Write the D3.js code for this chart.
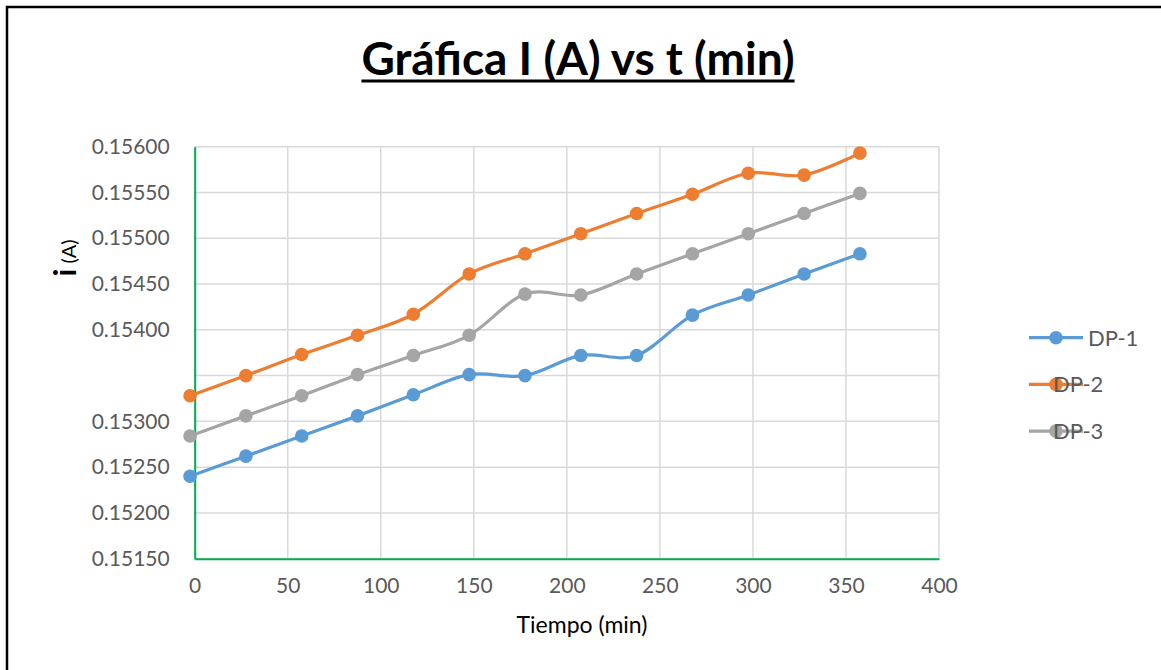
<!DOCTYPE html>
<html>
<head>
<meta charset="utf-8">
<script src="https://cdn.jsdelivr.net/npm/d3@7"></script>
<style>
  body { margin: 0; background: #fff; }
  svg { display: block; font-family: Lato, "Open Sans", sans-serif; }
</style>
</head>
<body>
<svg id="chart" width="1161" height="670"></svg>
<script>
// time (min)
let timeMin = [-2.5, 27.5, 57.5, 87.5, 117.5, 147.5, 177.5, 207.5, 237.5, 267.5, 297.5, 327.5, 357.5];

let dp1 = [0.15240, 0.15262, 0.15284, 0.15306, 0.15329, 0.15351, 0.15350, 0.15372, 0.15372, 0.15416, 0.15438, 0.15461, 0.15483];
let dp2 = [0.15328, 0.15350, 0.15373, 0.15394, 0.15417, 0.15461, 0.15483, 0.15505, 0.15527, 0.15548, 0.15571, 0.15569, 0.15593];
let dp3 = [0.15284, 0.15306, 0.15328, 0.15351, 0.15372, 0.15394, 0.15439, 0.15438, 0.15461, 0.15483, 0.15505, 0.15527, 0.15549];

let seriesNames = ["DP-1", "DP-2", "DP-3"];
let colors = ["#5B9BD5", "#ED7D31", "#A5A5A5"];

let xTicks = [0, 50, 100, 150, 200, 250, 300, 350, 400];
let yTickLabels = [0.15150, 0.15200, 0.15250, 0.15300, 0.15400, 0.15450, 0.15500, 0.15550, 0.15600];

let svg = d3.select("#chart");

// outer frame (cut off on the right and bottom)
svg.append("rect")
  .attr("x", 7).attr("y", 7)
  .attr("width", 1200).attr("height", 700)
  .attr("fill", "none")
  .attr("stroke", "#000")
  .attr("stroke-width", 2.5);

let plotL = 194.7, plotR = 939, plotT = 146.7, plotB = 558.7;

let x = d3.scaleLinear().domain([0, 400]).range([plotL, plotR]);
let y = d3.scaleLinear().domain([0.1515, 0.156]).range([plotB, plotT]);

// gridlines
let grid = svg.append("g").attr("stroke", "#D9D9D9").attr("stroke-width", 1.5);
grid.selectAll(".gx")
  .data(xTicks)
  .enter().append("line")
  .attr("x1", d => x(d)).attr("x2", d => x(d))
  .attr("y1", plotT).attr("y2", plotB);
grid.selectAll(".gy")
  .data(y.ticks(10))
  .enter().append("line")
  .attr("x1", plotL).attr("x2", plotR)
  .attr("y1", d => y(d)).attr("y2", d => y(d));

// axes
let xAxis = svg.append("g")
  .attr("transform", "translate(0," + plotB + ")")
  .call(d3.axisBottom(x).tickValues(xTicks).tickSize(0).tickSizeOuter(0).tickPadding(19));

let yAxis = svg.append("g")
  .attr("transform", "translate(" + plotL + ",0)")
  .call(d3.axisLeft(y).tickValues(yTickLabels).tickFormat(d3.format(".5f")).tickSize(0).tickSizeOuter(0).tickPadding(25));

[xAxis, yAxis].forEach(function(a) {
  a.select(".domain").attr("stroke", "#00B050").attr("stroke-width", 2);
  a.selectAll("text")
    .attr("fill", "#595959")
    .style("font-size", "21px")
    .style("font-family", "Lato, sans-serif");
});

// series
let line = d3.line()
  .x(d => x(d.t))
  .y(d => y(d.v))
  .curve(d3.curveCatmullRom.alpha(0));

let allSeries = [dp1, dp2, dp3].map(function(vals, i) {
  return {name: seriesNames[i], color: colors[i], points: vals.map((v, j) => ({t: timeMin[j], v: v}))};
});

let sg = svg.selectAll(".series")
  .data(allSeries)
  .enter().append("g")
  .attr("class", "series");

sg.append("path")
  .attr("d", d => line(d.points))
  .attr("fill", "none")
  .attr("stroke", d => d.color)
  .attr("stroke-width", 3.2);

sg.selectAll("circle")
  .data(d => d.points.map(p => ({t: p.t, v: p.v, color: d.color})))
  .enter().append("circle")
  .attr("cx", d => x(d.t))
  .attr("cy", d => y(d.v))
  .attr("r", 6.8)
  .attr("fill", d => d.color);

// legend
let legend = svg.selectAll(".legend")
  .data(allSeries)
  .enter().append("g")
  .attr("class", "legend")
  .attr("transform", (d, i) => "translate(1029," + (337.7 + i * 46.7) + ")");

legend.append("line")
  .attr("x1", 0).attr("x2", 54)
  .attr("stroke", d => d.color)
  .attr("stroke-width", 3.2);
legend.append("circle")
  .attr("cx", 27).attr("r", 6.8)
  .attr("fill", d => d.color);
legend.append("text")
  .attr("x", (d, i) => i === 0 ? 59 : 24)
  .attr("dy", "0.36em")
  .attr("fill", "#595959")
  .style("font-size", "22px")
  .text(d => d.name);

// title, underline drawn as a solid line under it
let title = svg.append("text")
  .attr("x", 578).attr("y", 75)
  .attr("text-anchor", "middle")
  .style("font-size", "46px")
  .style("font-weight", "bold")
  .attr("fill", "#000")
  .text("Gráfica I (A) vs t (min)");

let tw = title.node().getComputedTextLength();
svg.append("line")
  .attr("x1", 578 - tw / 2).attr("x2", 578 + tw / 2)
  .attr("y1", 81).attr("y2", 81)
  .attr("stroke", "#000")
  .attr("stroke-width", 3);

svg.append("text")
  .attr("x", 582).attr("y", 633)
  .attr("text-anchor", "middle")
  .style("font-size", "23px")
  .attr("fill", "#000")
  .text("Tiempo (min)");

let yTitle = svg.append("text")
  .attr("transform", "translate(76,258) rotate(-90)")
  .attr("text-anchor", "middle")
  .attr("fill", "#000");
yTitle.append("tspan").style("font-size", "31px").style("font-weight", "bold").text("i");
yTitle.append("tspan").style("font-size", "20px").text(" (A)");
</script>
</body>
</html>
